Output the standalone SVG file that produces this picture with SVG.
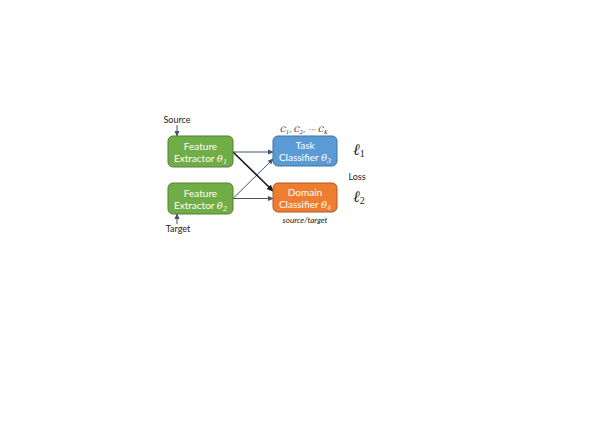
<svg xmlns="http://www.w3.org/2000/svg" width="605" height="430" viewBox="0 0 605 430">
<style>
  .lbl { font-family: Lato, "Liberation Sans", sans-serif; font-size: 10px; fill: #ffffff; text-anchor: middle; }
  .ext { font-family: Lato, "Liberation Sans", sans-serif; font-size: 9px; fill: #222222; text-anchor: middle; }
  .math { font-family: "DejaVu Serif", "Liberation Serif", serif; font-style: italic; }
  .sub { font-size: 6.5px; }
  .green { fill: #70AD47; stroke: #538135; stroke-width: 1; }
  .blue { fill: #5B9BD5; stroke: #41719C; stroke-width: 1; }
  .orange { fill: #ED7D31; stroke: #AE5A21; stroke-width: 1; }
  .thin { stroke: #44546A; stroke-width: 1; fill: none; marker-end: url(#ah); }
  .dark { stroke: #1a1a1a; stroke-width: 1.6; fill: none; marker-end: url(#ahd); }
  .ell { font-family: "Liberation Serif", "DejaVu Serif", serif; font-style: italic; font-size: 16px; fill: #222222; }
</style>
<defs>
  <marker id="ah" markerWidth="6" markerHeight="6" refX="5" refY="3" orient="auto" markerUnits="userSpaceOnUse">
    <path d="M0,0.5 L6,3 L0,5.5 z" fill="#44546A"/>
  </marker>
  <marker id="ahd" markerWidth="7" markerHeight="7" refX="6" refY="3.5" orient="auto" markerUnits="userSpaceOnUse">
    <path d="M0,0.5 L7,3.5 L0,6.5 z" fill="#1a1a1a"/>
  </marker>
</defs>
<rect width="605" height="430" fill="#ffffff"/>

<g id="connectors">
  <line class="thin" x1="177" y1="125" x2="177" y2="136"/>
  <line class="thin" x1="177" y1="224" x2="177" y2="214"/>
  <line class="thin" x1="233" y1="152" x2="273" y2="152"/>
  <line class="thin" x1="233" y1="198.5" x2="273" y2="198.5"/>
  <line class="thin" x1="233" y1="198.5" x2="273" y2="159"/>
  <line class="dark" x1="233" y1="152" x2="273" y2="191"/>
</g>

<g id="source">
  <text class="ext" x="177" y="122.5">Source</text>
</g>
<g id="target">
  <text class="ext" x="178" y="232">Target</text>
</g>

<g id="fe1">
  <rect class="green" x="168" y="136" width="65" height="31" rx="5"/>
  <text class="lbl" x="200.5" y="149.5">Feature</text>
  <text class="lbl" x="200.5" y="161.5">Extractor <tspan class="math">θ</tspan><tspan class="math sub" dy="2">1</tspan></text>
</g>

<g id="fe2">
  <rect class="green" x="168" y="183" width="65" height="31" rx="5"/>
  <text class="lbl" x="200.5" y="196.5">Feature</text>
  <text class="lbl" x="200.5" y="208.5">Extractor <tspan class="math">θ</tspan><tspan class="math sub" dy="2">2</tspan></text>
</g>

<g id="task">
  <rect class="blue" x="273" y="136" width="64" height="30" rx="5"/>
  <text class="lbl" x="305" y="149">Task</text>
  <text class="lbl" x="305" y="160.5">Classifier <tspan class="math">θ</tspan><tspan class="math sub" dy="2">3</tspan></text>
</g>

<g id="domain">
  <rect class="orange" x="273" y="183" width="64" height="29" rx="5"/>
  <text class="lbl" x="305" y="196">Domain</text>
  <text class="lbl" x="305" y="207.5">Classifier <tspan class="math">θ</tspan><tspan class="math sub" dy="2">4</tspan></text>
</g>

<g id="classes">
  <text class="math" x="304" y="132" font-size="7.5" fill="#222222" text-anchor="middle">C<tspan font-size="5" dy="1.5">1</tspan><tspan dy="-1.5">, C</tspan><tspan font-size="5" dy="1.5">2</tspan><tspan dy="-1.5">, ⋯ C</tspan><tspan font-size="5" dy="1.5">K</tspan></text>
</g>

<g id="srctgt">
  <text x="305" y="223" font-family="Lato, 'Liberation Sans', sans-serif" font-style="italic" font-size="8" fill="#222222" text-anchor="middle">source/target</text>
</g>

<g id="loss">
  <text class="ell" x="353" y="155">ℓ<tspan font-style="normal" font-size="10" dy="2">1</tspan></text>
  <text class="ext" x="357" y="180">Loss</text>
  <text class="ell" x="353" y="202">ℓ<tspan font-style="normal" font-size="10" dy="2">2</tspan></text>
</g>
</svg>
